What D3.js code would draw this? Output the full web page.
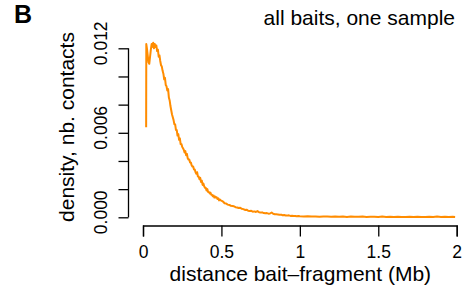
<!DOCTYPE html>
<html>
<head>
<meta charset="utf-8">
<script src="https://cdn.jsdelivr.net/npm/d3@7"></script>
<style>
  body { margin: 0; background: #fff; }
  text { font-family: "Liberation Sans", Arial, Helvetica, sans-serif; fill: #000; }
</style>
</head>
<body>
<div id="chart"></div>
<script>
// distance bait-fragment (Mb) and density
const distanceMb = [
  0.020, 0.021, 0.025, 0.030, 0.035, 0.040, 0.045, 0.050, 0.055, 0.060,
  0.065, 0.070, 0.075, 0.080, 0.085, 0.090, 0.095, 0.100, 0.105, 0.110,
  0.115, 0.120, 0.125, 0.130, 0.135, 0.140, 0.145, 0.150, 0.155, 0.160,
  0.165, 0.170, 0.175, 0.180, 0.185, 0.190, 0.195,
  0.200, 0.205, 0.210, 0.215, 0.220, 0.225, 0.230, 0.235, 0.240, 0.245,
  0.250, 0.255, 0.260, 0.265, 0.270, 0.275, 0.280, 0.285, 0.290, 0.295,
  0.300, 0.305, 0.310, 0.315, 0.320, 0.325, 0.330, 0.335, 0.340, 0.345,
  0.350, 0.355, 0.360, 0.365, 0.370, 0.375, 0.380, 0.385, 0.390, 0.395,
  0.400, 0.405, 0.410, 0.415, 0.420, 0.425, 0.430, 0.435, 0.440, 0.445,
  0.450, 0.455, 0.460, 0.465, 0.470, 0.475, 0.480, 0.485, 0.490, 0.495,
  0.50, 0.51, 0.52, 0.53, 0.54, 0.55, 0.56, 0.57, 0.58, 0.59,
  0.60, 0.61, 0.62, 0.63, 0.64, 0.65, 0.66, 0.67, 0.68, 0.69,
  0.70, 0.71, 0.72, 0.73, 0.74, 0.75, 0.76, 0.77, 0.78, 0.79,
  0.80, 0.81, 0.82, 0.83, 0.84, 0.85, 0.86, 0.87, 0.88, 0.89,
  0.90, 0.91, 0.92, 0.93, 0.94, 0.95, 0.96, 0.97, 0.98, 0.99,
  1.000, 1.025, 1.050, 1.075, 1.100, 1.125, 1.150, 1.175,
  1.200, 1.225, 1.250, 1.275, 1.300, 1.325, 1.350, 1.375, 1.400, 1.425,
  1.450, 1.475, 1.500, 1.525, 1.550, 1.575, 1.600, 1.625, 1.650, 1.675,
  1.700, 1.725, 1.750, 1.775, 1.800, 1.825, 1.850, 1.875, 1.900, 1.925,
  1.950, 1.975, 1.990
];
const density = [
  0.0064, 0.0123, 0.0120, 0.0115, 0.0110, 0.0109, 0.0114, 0.0119, 0.0123, 0.0121,
  0.0124, 0.0120, 0.0123, 0.0121, 0.0122, 0.0118, 0.0119, 0.0114, 0.0115, 0.0111,
  0.0108, 0.0107, 0.0104, 0.0102, 0.0098, 0.0099, 0.0094, 0.0093, 0.0090, 0.0091,
  0.0085, 0.0083, 0.0079, 0.0076, 0.0073, 0.0071, 0.0069,
  0.0066, 0.0066, 0.0062, 0.0062, 0.0058, 0.0059, 0.0055, 0.0056, 0.0052, 0.0052,
  0.0050, 0.0049, 0.0048, 0.0046, 0.0047, 0.0044, 0.0045, 0.0042, 0.0041, 0.0041,
  0.0039, 0.0039, 0.0037, 0.0036, 0.0036, 0.0034, 0.0034, 0.0032, 0.0031, 0.0032,
  0.0029, 0.0029, 0.0027, 0.0028, 0.0025, 0.0026, 0.0023, 0.0024, 0.0022, 0.0021,
  0.0021, 0.0019, 0.0020, 0.0018, 0.0018, 0.0017, 0.00175, 0.0016, 0.0016, 0.0015,
  0.00155, 0.0014, 0.00148, 0.0014, 0.00142, 0.0013, 0.00134, 0.0012, 0.00126, 0.0012,
  0.00118, 0.00112, 0.00100, 0.00098, 0.00090, 0.00088, 0.00082, 0.00080, 0.00078, 0.00072,
  0.00070, 0.00066, 0.00068, 0.00060, 0.00058, 0.00052, 0.00054, 0.00047, 0.00045, 0.00046,
  0.00040, 0.00042, 0.00038, 0.00044, 0.00036, 0.00034, 0.00035, 0.00030, 0.00028, 0.00030,
  0.00026, 0.00027, 0.00034, 0.00025, 0.00022, 0.00021, 0.00020, 0.00018, 0.00019, 0.00015,
  0.00016, 0.00013, 0.00012, 0.00014, 0.00010, 0.00011, 0.00009, 0.00010, 0.00008, 0.00009,
  0.00007, 0.00006, 0.00007, 0.00005, 0.00006, 0.00004, 0.00005, 0.00005,
  0.00004, 0.00006, 0.00004, 0.00005, 0.00003, 0.00005, 0.00004, 0.00004, 0.00005, 0.00003,
  0.00004, 0.00004, 0.00003, 0.00005, 0.00003, 0.00004, 0.00003, 0.00004, 0.00003, 0.00003,
  0.00004, 0.00003, 0.00004, 0.00003, 0.00003, 0.00004, 0.00003, 0.00005, 0.00003, 0.00004,
  0.00003, 0.00004, 0.00003
];
const xTicks = [0, 0.5, 1, 1.5, 2];
const xTickLabels = ["0", "0.5", "1", "1.5", "2"];
const yTicks = [0, 0.002, 0.004, 0.006, 0.008, 0.010, 0.012];
const yTickLabels = ["0.000", "0.006", "0.012"];

const width = 473, height = 287;

const svg = d3.select("#chart")
  .append("svg")
  .attr("width", width)
  .attr("height", height);

const x = d3.scaleLinear().domain([0, 2]).range([143, 456.7]);
const y = d3.scaleLinear().domain([0, 0.012]).range([217.3, 48.3]);

// X axis
const xAxis = svg.append("g")
  .attr("transform", "translate(0,225.5)")
  .call(d3.axisBottom(x).tickValues(xTicks).tickFormat((d, i) => xTickLabels[i])
    .tickSize(11).tickPadding(9));
xAxis.select(".domain").attr("stroke", "#000").attr("stroke-width", 1.3);
xAxis.selectAll(".tick line").attr("stroke", "#000").attr("stroke-width", 1.3);
xAxis.selectAll(".tick text")
  .style("font-family", "'Liberation Sans', Arial, sans-serif")
  .style("font-size", "17.5px")
  .attr("fill", "#000");

// Y axis (minor ticks unlabeled)
const yAxis = svg.append("g")
  .attr("transform", "translate(128.5,0)")
  .call(d3.axisLeft(y).tickValues(yTicks).tickFormat("").tickSize(10));
yAxis.select(".domain").attr("stroke", "#000").attr("stroke-width", 1.3)
  .attr("d", `M0,${y(0)}V${y(0.012)}`);
yAxis.selectAll(".tick line").attr("stroke", "#000").attr("stroke-width", 1.3);

svg.selectAll(".ylab")
  .data(yTickLabels)
  .join("text")
  .attr("class", "ylab")
  .attr("transform", d => `translate(107,${y(+d) - 5}) rotate(-90)`)
  .attr("text-anchor", "middle")
  .style("font-size", "17.5px")
  .text(d => d);

// line
const pts = distanceMb.map((d, i) => [d, density[i]]);
svg.append("path")
  .datum(pts)
  .attr("fill", "none")
  .attr("stroke", "#FF8C00")
  .attr("stroke-width", 2)
  .attr("stroke-linejoin", "round")
  .attr("d", d3.line().x(d => x(d[0])).y(d => y(d[1])));

// titles
svg.append("text")
  .attr("x", (x(0) + x(2)) / 2 + 0.5)
  .attr("y", 281)
  .attr("text-anchor", "middle")
  .style("font-size", "21px")
  .text("distance bait\u2013fragment (Mb)");

svg.append("text")
  .attr("transform", "translate(74,127) rotate(-90)")
  .attr("text-anchor", "middle")
  .style("font-size", "21px")
  .text("density, nb. contacts");

svg.append("text")
  .attr("x", 455)
  .attr("y", 25)
  .attr("text-anchor", "end")
  .style("font-size", "21px")
  .text("all baits, one sample");

svg.append("text")
  .attr("x", 14)
  .attr("y", 23)
  .style("font-size", "25px")
  .style("font-weight", "bold")
  .text("B");
</script>
</body>
</html>
